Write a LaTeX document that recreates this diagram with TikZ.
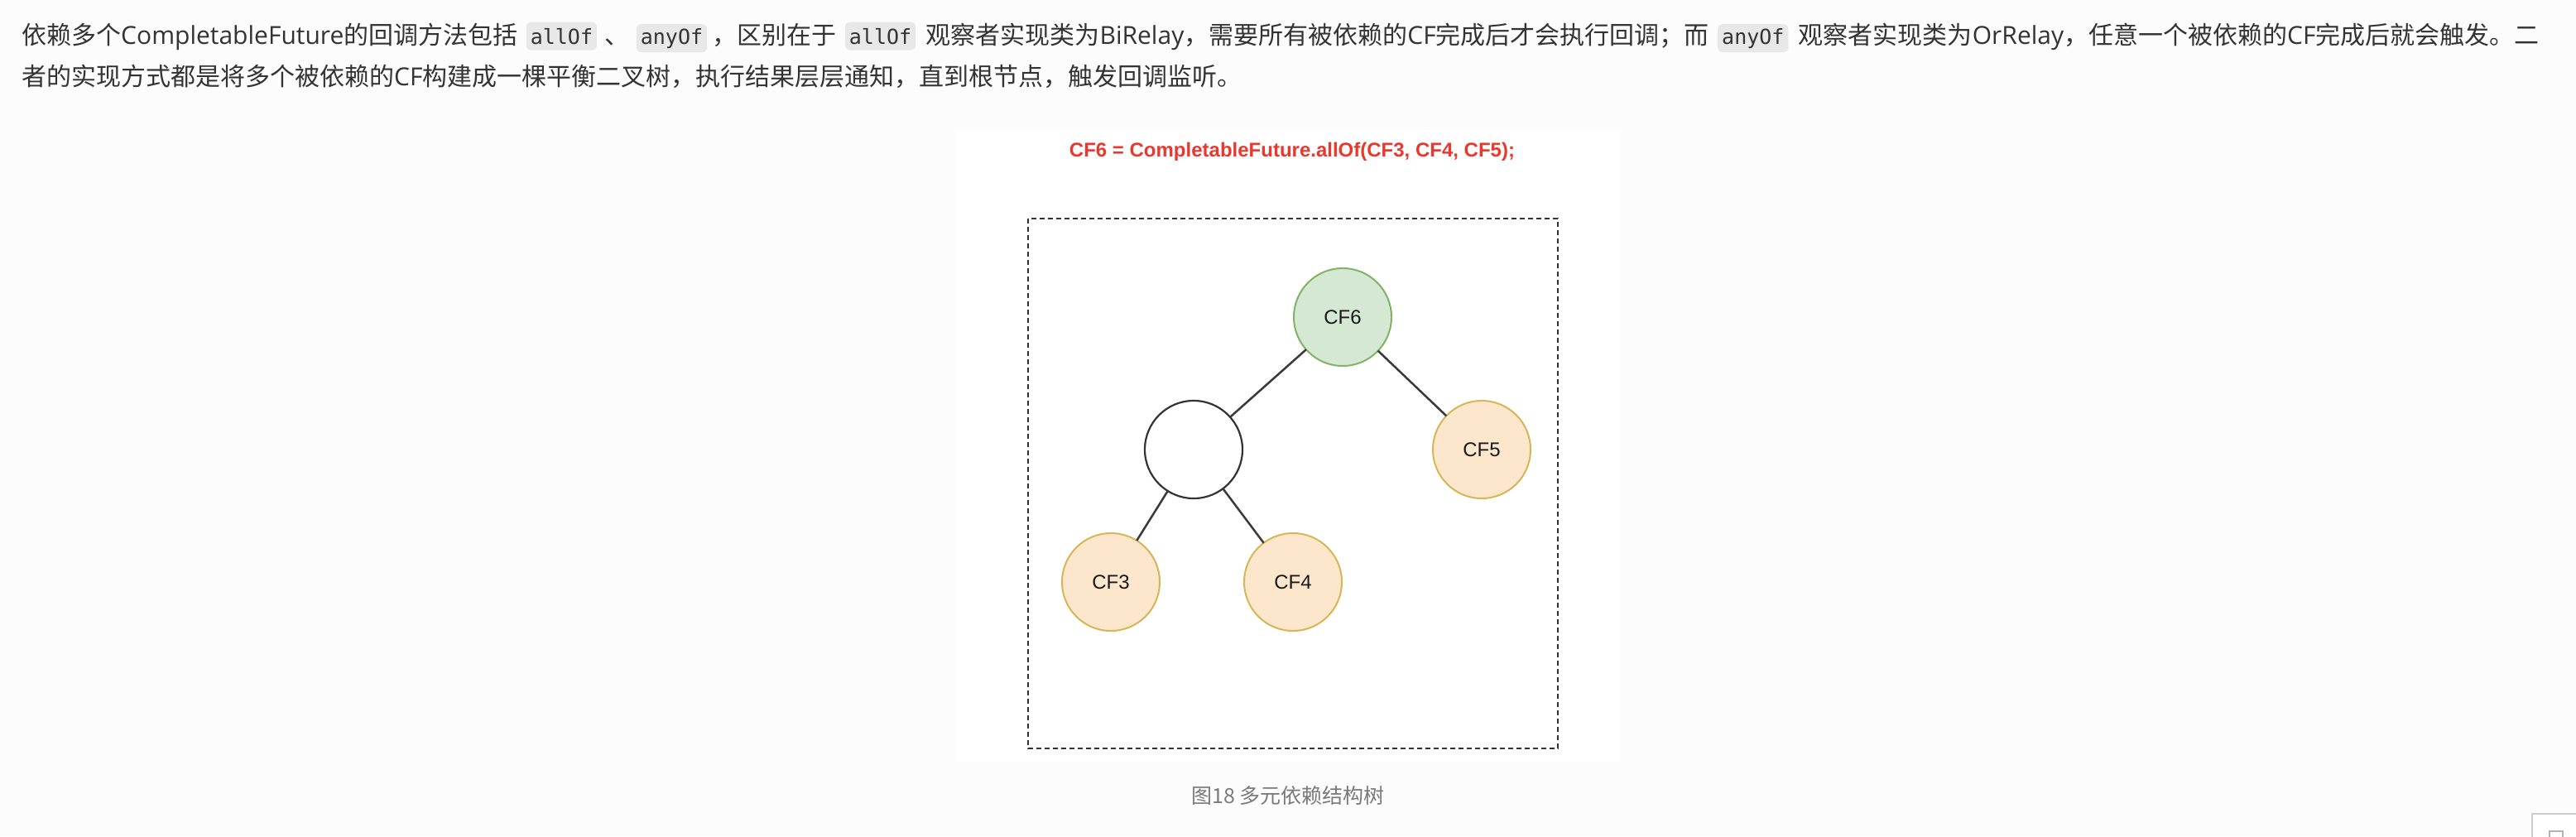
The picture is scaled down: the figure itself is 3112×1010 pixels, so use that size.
\documentclass[tikz,border=0pt]{standalone}
\usepackage{fontspec}
\usepackage{tkz-graph}
\usetikzlibrary{positioning}
\setmainfont{Open Sans}
\setmonofont{DejaVu Sans Mono}
\newfontfamily\cjk{Noto Sans CJK SC}
\newfontfamily\labelfont{Liberation Sans}

\definecolor{pagebg}{HTML}{FCFCFC}
\definecolor{textgray}{HTML}{333333}
\definecolor{codebg}{HTML}{E8E8E8}
\definecolor{titlered}{HTML}{E8392E}
\definecolor{greenfill}{HTML}{D5E8D4}
\definecolor{greenline}{HTML}{82B366}
\definecolor{orangefill}{HTML}{FCE6CC}
\definecolor{orangeline}{HTML}{D6B656}
\definecolor{edgegray}{HTML}{3A3A3A}
\definecolor{capgray}{HTML}{7A7A7A}

\tikzset{
  txt/.style={inner sep=0pt, text=textgray, font=\fontsize{30}{30}\selectfont},
  codebox/.style={inner xsep=5pt, inner ysep=0pt, minimum height=34pt, fill=codebg,
    rounded corners=6pt, text=textgray, font=\ttfamily\fontsize{25}{25}\selectfont},
  cflabel/.style={font=\labelfont\fontsize{24}{24}\selectfont, text=black!90}
}

\begin{document}
\begin{tikzpicture}[x=1pt,y=-1pt]
      \useasboundingbox (0,0) rectangle (3112,1010);
      \fill[pagebg] (0,0) rectangle (3112,1010);

      % text above the figure
      \node[txt, anchor=base west] (t1) at (26,53) {{\cjk 依赖多个}CompletableFuture{\cjk 的回调方法包括}};
      \node[codebox, base right=10pt of t1] (c1) {allOf};
      \node[txt, base right=9pt of c1] (t2) {\cjk 、};
      \node[codebox, base right=8pt of t2] (c2) {anyOf};
      \node[txt, base right=6pt of c2] (t3) {\cjk ，区别在于};
      \node[codebox, base right=10pt of t3] (c3) {allOf};
      \node[txt, base right=12pt of c3] (t4) {{\cjk 观察者实现类为}BiRelay{\cjk ，需要所有被依赖的}CF{\cjk 完成后才会执行回调；而}};
      \node[codebox, base right=10pt of t4] (c4) {anyOf};
      \node[txt, base right=12pt of c4] (t5) {{\cjk 观察者实现类为}OrRelay{\cjk ，任意一个被依赖的}CF{\cjk 完成后就会触发。二}};
      \node[txt, anchor=base west] (t6) at (26,103) {{\cjk 者的实现方式都是将多个被依赖的}CF{\cjk 构建成一棵平衡二叉树，执行结果层层通知，直到根节点，触发回调监听。}};

      % figure
      \fill[white] (1155,157) rectangle (1957,920);
      \node[font=\labelfont\bfseries\fontsize{24}{24}\selectfont, text=titlered] (title) at (1561,183) {CF6 = CompletableFuture.allOf(CF3, CF4, CF5);};
      \draw[textgray, line width=2.2pt, dash pattern=on 6pt off 4pt] (1242,264) rectangle (1882,904);

      \tikzset{
      VertexStyle/.style = {shape=circle, draw=greenline, fill=greenfill, line width=2pt,
        minimum size=118pt, inner sep=0pt, cflabel} }
      \Vertex[x=1622,y=383]{CF6}

      \tikzset{
      VertexStyle/.style = {shape=circle, draw=orangeline, fill=orangefill, line width=2pt,
        minimum size=118pt, inner sep=0pt, cflabel} }
      \Vertex[x=1790,y=543]{CF5}
      \Vertex[x=1342,y=703]{CF3}
      \Vertex[x=1562,y=703]{CF4}

      \tikzset{
      VertexStyle/.style = {shape=circle, draw=textgray, fill=white, line width=2.2pt,
        minimum size=118pt, inner sep=0pt} }
      \Vertex[x=1442,y=543,NoLabel]{mid}

      \tikzset{
      EdgeStyle/.style = {draw=edgegray, line width=2.5pt} }
      \Edge(CF6)(mid)
      \Edge(CF6)(CF5)
      \Edge(mid)(CF3)
      \Edge(mid)(CF4)

      \node[font=\cjk\fontsize{25}{25}\selectfont, text=capgray] (caption) at (1556,961) {图18 多元依赖结构树};

      % corner widget
      \draw[black!20, line width=2pt, fill=white] (3059,983) rectangle (3125,1020);
      \draw[black!30, line width=2pt] (3080,1004) rectangle (3096,1016);
\end{tikzpicture}
\end{document}
